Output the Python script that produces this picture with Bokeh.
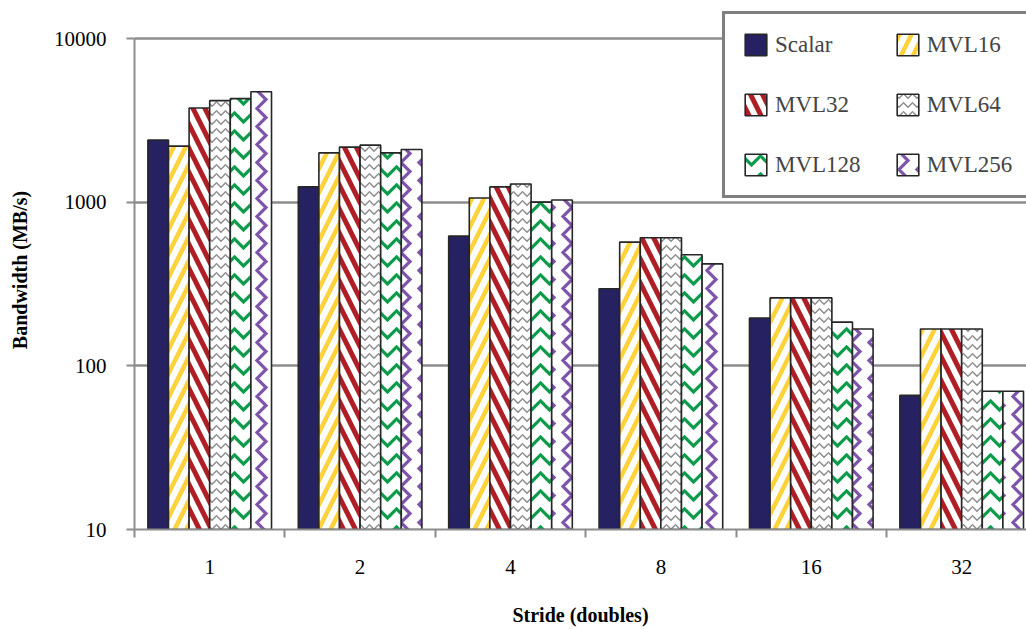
from bokeh.plotting import figure
from bokeh.models import (Range1d, FixedTicker, NumeralTickFormatter, Legend, LegendItem,
                          ColumnDataSource)
from bokeh.embed import file_html
from bokeh.resources import INLINE

strides = ["1", "2", "4", "8", "16", "32"]
series = ["Scalar", "MVL16", "MVL32", "MVL64", "MVL128", "MVL256"]
scalar = [2400, 1240, 620, 296, 196, 66]
mvl16 = [2200, 2000, 1060, 570, 260, 168]
mvl32 = [3760, 2170, 1240, 606, 260, 168]
mvl64 = [4170, 2230, 1290, 606, 260, 168]
mvl128 = [4290, 2000, 1000, 477, 185, 70]
mvl256 = [4730, 2100, 1030, 420, 168, 70]
y_ticks = [10, 100, 1000, 10000]

values = [scalar, mvl16, mvl32, mvl64, mvl128, mvl256]
fills = ["#262262", "white", "white", "white", "white", "white"]
hcolors = [None, "#FFD23A", "#B01E25", "#8A8A8A", "#0E9C4C", "#7E55A9"]
hpatterns = [" ", "/", "\\", "v", "v", ">"]
hscales = [12, 24, 24, 9, 18, 18]
hweights = [1, 4.5, 5, 1.4, 3.2, 3.2]

FONT = "'Liberation Serif', 'Times New Roman', serif"
bar_w = 0.137

p = figure(width=1026, height=629, y_axis_type="log", output_backend="svg",
           toolbar_location=None, x_range=Range1d(0, 5.931), y_range=Range1d(10, 14828),
           min_border_left=134, min_border_top=10, min_border_bottom=100, min_border_right=0)
p.outline_line_color = None
p.background_fill_color = "white"

items = []
for j, (name, vals) in enumerate(zip(series, values)):
    xs = [i + 0.5 + (j - 2.5) * bar_w for i in range(len(strides))]
    src = ColumnDataSource(dict(x=xs, top=vals, bottom=[10] * len(vals)))
    kw = dict(x="x", top="top", bottom="bottom", width=bar_w, source=src,
              fill_color=fills[j], line_color="#262626", line_width=1.6)
    if hcolors[j]:
        kw.update(hatch_pattern=hpatterns[j], hatch_color=hcolors[j],
                  hatch_scale=hscales[j], hatch_weight=hweights[j])
    r = p.vbar(**kw)
    items.append(LegendItem(label=name, renderers=[r]))

# axes
centers = [i + 0.5 for i in range(len(strides))]
p.xaxis.ticker = FixedTicker(ticks=centers, minor_ticks=list(range(0, 7)))
p.xaxis.major_label_overrides = {c: s for c, s in zip(centers, strides)}
p.xaxis.major_tick_line_color = None
p.xaxis.major_tick_out = 8
p.xaxis.major_tick_in = 0
p.xaxis.minor_tick_out = 8
p.xaxis.minor_tick_in = 0
p.xaxis.minor_tick_line_color = "#8c8c8c"
p.xaxis.minor_tick_line_width = 2
p.xaxis.axis_label = "Stride (doubles)"
p.xaxis.major_label_standoff = 22
p.xaxis.axis_label_standoff = 27

p.yaxis.ticker = FixedTicker(ticks=y_ticks)
p.yaxis.bounds = (y_ticks[0], y_ticks[-1])
p.yaxis.formatter = NumeralTickFormatter(format="0")
p.yaxis.major_tick_out = 8
p.yaxis.major_tick_in = 0
p.yaxis.major_tick_line_color = "#8c8c8c"
p.yaxis.major_tick_line_width = 2
p.yaxis.minor_tick_line_color = None
p.yaxis.axis_label = "Bandwidth (MB/s)"
p.yaxis.major_label_standoff = 20
p.yaxis.axis_label_standoff = 20

for ax in (p.xaxis, p.yaxis):
    ax.axis_line_color = "#8c8c8c"
    ax.axis_line_width = 2
    ax.major_label_text_font = FONT
    ax.major_label_text_font_size = "21px"
    ax.major_label_text_color = "black"
    ax.axis_label_text_font = FONT
    ax.axis_label_text_font_size = "20px"
    ax.axis_label_text_font_style = "bold"
    ax.axis_label_text_color = "black"

p.xgrid.grid_line_color = None
p.ygrid.ticker = FixedTicker(ticks=y_ticks)
p.ygrid.grid_line_color = "#8c8c8c"
p.ygrid.grid_line_width = 2.5

legend = Legend(items=items, location=(588, 331), orientation="horizontal", ncols=2,
                glyph_width=27, glyph_height=27, label_height=27, label_standoff=6,
                spacing=33, padding=17, margin=0,
                label_text_font=FONT, label_text_font_size="23px",
                border_line_color="black", border_line_width=3,
                background_fill_color="white", background_fill_alpha=1)
p.add_layout(legend, "center")

open("out.html", "w").write(file_html(p, INLINE))
